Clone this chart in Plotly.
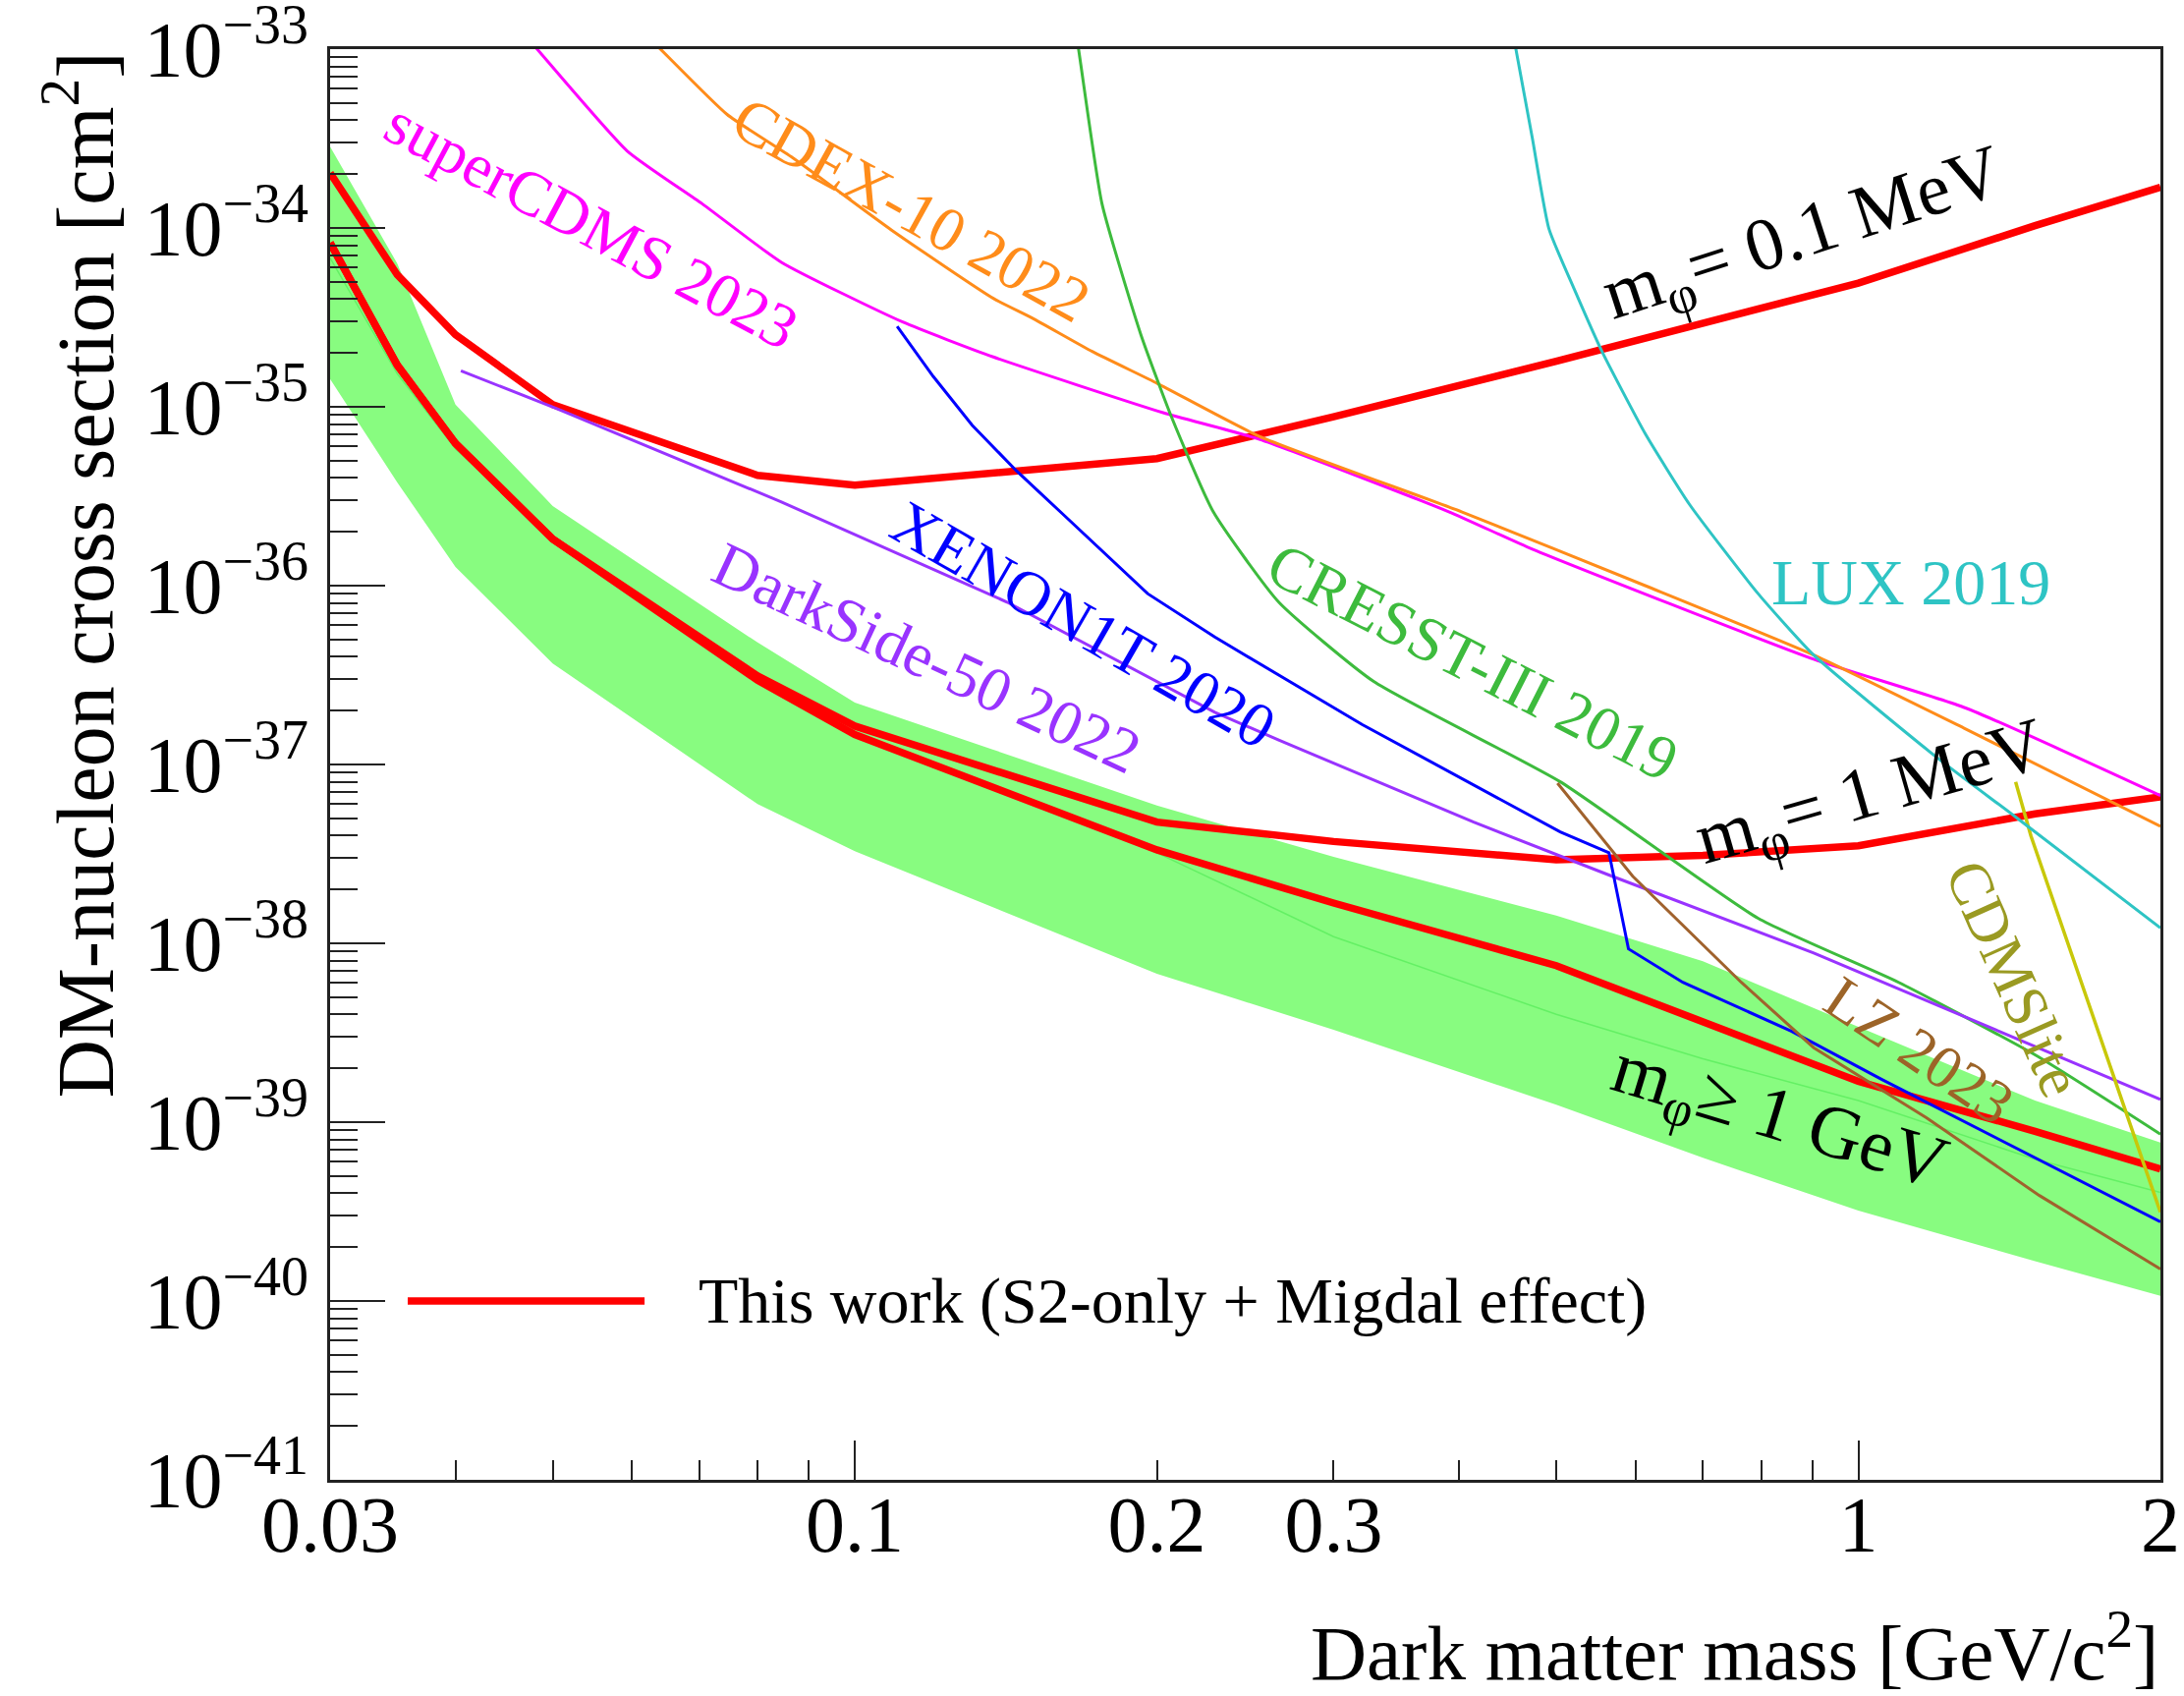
import numpy as np
import plotly.graph_objects as go

# ---------------- data (mass in GeV/c^2, cross section in cm^2) ----------------
mass_grid = [0.03, 0.035, 0.04, 0.05, 0.08, 0.1, 0.2, 0.3, 0.5, 0.7, 1.0, 1.5, 2.0]

band_upper = [2.85e-34, 6.32e-35, 1.03e-35, 2.79e-36, 4.81e-37, 2.22e-37, 5.90e-38,
              3.04e-38, 1.43e-38, 7.93e-39, 3.41e-39, 1.32e-39, 7.69e-40]
band_lower = [1.43e-35, 3.78e-36, 1.27e-36, 3.67e-37, 6.01e-38, 3.27e-38, 6.75e-39,
              3.29e-39, 1.25e-39, 6.32e-40, 3.20e-40, 1.67e-40, 1.07e-40]
band_center = [6.79e-35, 1.53e-35, 5.82e-36, 1.88e-36, 2.91e-37, 1.50e-37, 3.21e-38,
               1.09e-38, 4.01e-39, 2.26e-39, 1.32e-39, 6.21e-40, 4.04e-40]

this_work_01MeV = [2.03e-34, 5.47e-35, 2.53e-35, 1.03e-35, 4.14e-36, 3.65e-36, 5.13e-36,
                   8.79e-36, 1.80e-35, 2.92e-35, 4.92e-35, 1.03e-34, 1.69e-34]
this_work_1MeV = [8.26e-35, 1.71e-35, 6.25e-36, 1.82e-36, 3.13e-37, 1.64e-37, 4.76e-38,
                  3.71e-38, 2.93e-38, 3.10e-38, 3.51e-38, 5.30e-38, 6.58e-38]
this_work_1GeV = [8.26e-35, 1.71e-35, 6.25e-36, 1.82e-36, 2.96e-37, 1.47e-37, 3.33e-38,
                  1.68e-38, 7.50e-39, 3.60e-39, 1.69e-39, 8.89e-40, 5.47e-40]

supercdms_m = [0.0450, 0.0481, 0.0593, 0.0704, 0.0845, 0.1116, 0.1374, 0.2029, 0.2530,
               0.3907, 0.4733, 0.9027, 1.279, 2.0]
supercdms_s = [1.57e-33, 1.02e-33, 2.70e-34, 1.37e-34, 6.43e-35, 2.98e-35, 1.90e-35,
               9.27e-36, 6.59e-36, 2.59e-36, 1.60e-36, 3.88e-37, 2.07e-37, 6.70e-38]

cdex_m = [0.0591, 0.0638, 0.0746, 0.0867, 0.1088, 0.1374, 0.1502, 0.1724, 0.2003,
          0.2530, 0.4023, 0.6132, 0.9027, 1.279, 2.0]
cdex_s = [1.57e-33, 1.02e-33, 4.31e-34, 2.47e-34, 9.73e-35, 4.04e-35, 3.14e-35,
          2.04e-35, 1.35e-35, 6.84e-36, 2.59e-36, 1.00e-36, 4.09e-37, 1.58e-37, 4.51e-38]

cresst_m = [0.1648, 0.1670, 0.1763, 0.1928, 0.2068, 0.2276, 0.2645, 0.3289, 0.5046,
            0.7945, 1.0968, 1.5, 2.0]
cresst_s = [1.57e-33, 1.02e-33, 1.37e-34, 2.53e-35, 8.79e-36, 2.59e-36, 8.09e-37,
            2.91e-37, 8.0e-38, 1.38e-38, 6.05e-39, 2.38e-39, 8.57e-40]

darkside_m = [0.0405, 0.0504, 0.0845, 0.1418, 0.2284, 0.2645, 0.4137, 0.5643, 0.9027, 2.0]
darkside_s = [1.59e-35, 9.79e-36, 2.94e-36, 8.09e-37, 1.96e-37, 1.37e-37, 4.76e-38,
              2.41e-38, 8.83e-39, 1.34e-39]

xenon_m = [0.1102, 0.1197, 0.1309, 0.1450, 0.1607, 0.1958, 0.2284, 0.3205, 0.5046,
           0.5643, 0.5901, 0.6685, 0.8574, 1.0557, 2.0]
xenon_s = [2.82e-35, 1.48e-35, 7.89e-36, 4.37e-36, 2.55e-36, 9.02e-37, 5.16e-37,
           1.67e-37, 4.20e-38, 3.21e-38, 9.31e-39, 6.05e-39, 3.23e-39, 1.73e-39, 2.77e-40]

lz_m = [0.5014, 0.5959, 0.7645, 0.9027, 1.169, 1.515, 2.0]
lz_s = [7.87e-38, 2.37e-38, 6.05e-39, 2.61e-39, 1.06e-39, 3.89e-40, 1.51e-40]

cdmslite_m = [1.4346, 1.486, 2.0]
cdmslite_s = [8.0e-38, 3.98e-38, 3.14e-40]

lux_m = [0.4498, 0.4555, 0.4733, 0.4917, 0.5209, 0.5553, 0.6132, 0.6790, 0.7945,
         0.9027, 1.2034, 1.4391, 2.0]
lux_s = [1.51e-33, 1.02e-33, 3.18e-34, 9.89e-35, 4.57e-35, 2.04e-35, 7.08e-36,
         2.84e-36, 9.02e-37, 4.09e-37, 1.07e-37, 5.02e-38, 1.22e-38]

# axis ticks
x_tickvals = [0.03, 0.1, 0.2, 0.3, 1, 2]
x_ticktext = ["0.03", "0.1", "0.2", "0.3", "1", "2"]
x_minor = [0.04, 0.05, 0.06, 0.07, 0.08, 0.09, 0.4, 0.5, 0.6, 0.7, 0.8, 0.9]
x_long = [0.1, 1]
y_exponents = [-41, -40, -39, -38, -37, -36, -35, -34, -33]

# labels: (text, mass, sigma, angle, colour, size)
labels = [
    ("superCDMS 2023", 0.0547, 1.03e-34, 28, "#ff00ff", 64),
    ("CDEX-10 2022", 0.114, 1.27e-34, 29, "#ff8c1a", 64),
    ("XENON1T 2020", 0.169, 6.07e-37, 30, "#0000ff", 64),
    ("DarkSide-50 2022", 0.118, 3.95e-37, 25, "#9933ff", 64),
    ("CRESST-III 2019", 0.4125, 3.74e-37, 27, "#3dbb3d", 64),
    ("LUX 2019", 1.129, 1.04e-36, 0, "#2ec4c4", 66),
    ("m<sub>φ</sub>= 0.1 MeV", 0.883, 8.89e-35, -18, "black", 76),
    ("m<sub>φ</sub>= 1 MeV", 1.029, 6.70e-38, -16, "black", 76),
    ("m<sub>φ</sub>≥ 1 GeV", 0.833, 1.03e-39, 17, "black", 76),
    ("LZ 2023", 1.151, 2.51e-39, 34, "#9c6428", 62),
    ("CDMSlite", 1.431, 6.38e-39, 66, "#9a9a22", 62),
]

FONT = "Liberation Serif, Times New Roman, serif"

fig = go.Figure()

# green band
fig.add_trace(go.Scatter(
    x=mass_grid + mass_grid[::-1],
    y=band_upper + band_lower[::-1],
    fill="toself", fillcolor="rgb(136,252,128)",
    line=dict(width=0), mode="lines", hoverinfo="skip", showlegend=False))
fig.add_trace(go.Scatter(x=mass_grid, y=band_center, mode="lines",
                         line=dict(color="rgb(100,240,100)", width=1.5),
                         hoverinfo="skip", showlegend=False))

red = "#ff0000"
for ys in (this_work_01MeV, this_work_1MeV, this_work_1GeV):
    fig.add_trace(go.Scatter(x=mass_grid, y=ys, mode="lines",
                             line=dict(color=red, width=7.5),
                             showlegend=False))

exps = [
    (supercdms_m, supercdms_s, "#ff00ff", 3, "spline"),
    (cdex_m, cdex_s, "#ff8c1a", 3, "spline"),
    (cresst_m, cresst_s, "#3dbb3d", 3, "spline"),
    (darkside_m, darkside_s, "#9933ff", 3, "linear"),
    (xenon_m, xenon_s, "#0000ff", 3, "linear"),
    (lz_m, lz_s, "#a0622d", 3, "linear"),
    (cdmslite_m, cdmslite_s, "#c8c80a", 3.5, "linear"),
    (lux_m, lux_s, "#2ec4c4", 3, "spline"),
]
for xm, ys, col, w, shp in exps:
    fig.add_trace(go.Scatter(x=xm, y=ys, mode="lines",
                             line=dict(color=col, width=w, shape=shp, smoothing=0.5),
                             showlegend=False))

# dummy trace for overlay axis carrying the long x ticks
fig.add_trace(go.Scatter(x=[0.1], y=[None], xaxis="x2", yaxis="y",
                         mode="lines", showlegend=False, hoverinfo="skip"))

xr = [np.log10(0.03), np.log10(2)]
y_minor = [k * 10.0 ** e for e in y_exponents[:-1] for k in range(2, 10)]

for text, xm, ys, ang, col, size in labels:
    fig.add_annotation(x=np.log10(xm), y=np.log10(ys), xref="x", yref="y",
                       text=text, textangle=ang, showarrow=False,
                       font=dict(family=FONT, size=size, color=col))

# axis titles
fig.add_annotation(text="DM-nucleon cross section [cm<sup>2</sup>]",
                   xref="paper", yref="paper", x=-0.137, y=1.0,
                   xanchor="center", yanchor="top", textangle=-90,
                   showarrow=False, font=dict(family=FONT, size=82, color="black"))
fig.add_annotation(text="Dark matter mass [GeV/c<sup>2</sup>]",
                   xref="paper", yref="paper", x=1.0, y=-0.117,
                   xanchor="right", yanchor="middle",
                   showarrow=False, font=dict(family=FONT, size=79, color="black"))

# legend (drawn manually)
fig.add_shape(type="line", xref="paper", yref="paper", x0=0.0424, x1=0.1718,
              y0=0.125, y1=0.125, line=dict(color=red, width=7.5))
fig.add_annotation(text="This work (S2-only + Migdal effect)", xref="paper",
                   yref="paper", x=0.2002, y=0.125, xanchor="left",
                   yanchor="middle", showarrow=False,
                   font=dict(family=FONT, size=66, color="black"))

axis_line = dict(showline=True, linecolor="#222", linewidth=3, mirror=True,
                 showgrid=False, zeroline=False, automargin=False)

fig.update_layout(
    width=2223, height=1726, autosize=False,
    margin=dict(l=336, r=24, t=50, b=220, autoexpand=False),
    paper_bgcolor="white", plot_bgcolor="white",
    font=dict(family=FONT, size=80, color="black"),
    xaxis=dict(type="log", range=xr, tickmode="array", tickvals=x_tickvals,
               ticktext=x_ticktext, ticks="inside", ticklen=20, tickwidth=2,
               tickcolor="#222", ticklabelstandoff=-26, ticklabeloverflow="allow",
               minor=dict(tickmode="array", tickvals=x_minor, ticks="inside",
                          ticklen=20, tickwidth=2, tickcolor="#222", showgrid=False),
               tickfont=dict(family=FONT, size=80), **axis_line),
    xaxis2=dict(type="log", range=xr, overlaying="x", anchor="y", side="bottom",
                tickmode="array", tickvals=x_long, ticks="inside", ticklen=40,
                tickwidth=2, tickcolor="#222", showticklabels=False,
                showline=False, showgrid=False, zeroline=False, automargin=False),
    yaxis=dict(type="log", range=[-41, -32.9999], tickmode="array",
               tickvals=[10.0 ** e for e in y_exponents],
               ticktext=["10<sup>−%d</sup>" % (-e) for e in y_exponents],
               ticks="inside", ticklen=56, tickwidth=2, tickcolor="#222",
               ticklabelstandoff=3, ticklabeloverflow="allow",
               minor=dict(tickmode="array", tickvals=y_minor, ticks="inside",
                          ticklen=28, tickwidth=2, tickcolor="#222", showgrid=False),
               tickfont=dict(family=FONT, size=80), **axis_line),
    showlegend=False,
)

fig.write_html("out.html", config={"displayModeBar": False},
               post_script="document.body.style.margin='0px';")
